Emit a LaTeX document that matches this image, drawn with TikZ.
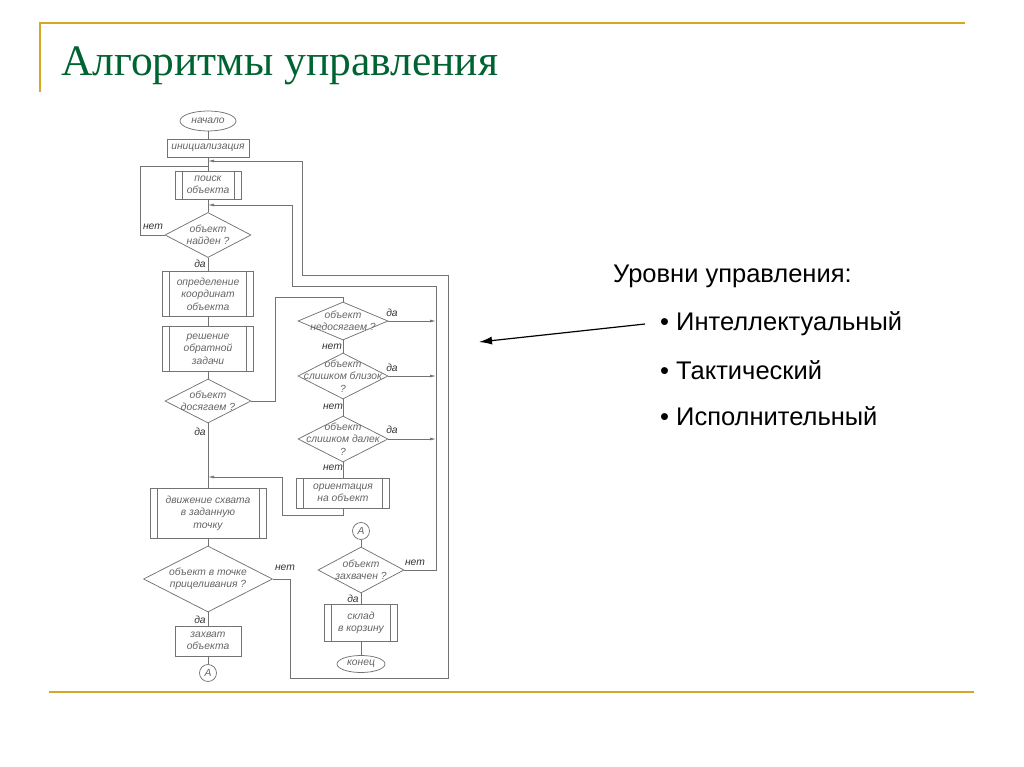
\documentclass[tikz,border=0pt]{standalone}
\usepackage{fontspec}
\setmainfont{Liberation Serif}
\setsansfont{Liberation Sans}
\usetikzlibrary{shapes.geometric,arrows.meta}

\definecolor{gold}{RGB}{214,166,36}
\definecolor{titlegreen}{RGB}{0,100,50}
\definecolor{chartline}{RGB}{115,115,115}
\definecolor{charttext}{RGB}{100,100,100}

\begin{document}
\begin{tikzpicture}[x=1pt,y=-1pt,
  chart/.style={font=\sffamily\itshape\fontsize{10.3}{12.5}\selectfont, text=charttext, align=center, inner sep=0pt},
  line/.style={draw=chartline, line width=0.75pt},
  box/.style 2 args={chart, line, rectangle, minimum width=#1, minimum height=#2},
  sub/.style 2 args={box={#1}{#2}, path picture={
    \draw[chartline, line width=0.75pt]
      ([xshift=7pt]path picture bounding box.north west) -- ([xshift=7pt]path picture bounding box.south west)
      ([xshift=-7pt]path picture bounding box.north east) -- ([xshift=-7pt]path picture bounding box.south east);}},
  dec/.style 2 args={chart, line, diamond, aspect=2, inner xsep=-8pt, inner ysep=-11pt, minimum width=#1, minimum height=#2},
  term/.style 2 args={chart, line, ellipse, minimum width=#1, minimum height=#2},
  con/.style={chart, line, circle, minimum size=17pt},
  lbl/.style={chart, text=black!80},
  flow/.style={line, -{Latex[length=6pt,width=3pt]}},
  slide/.style={font=\sffamily\fontsize{25.5}{25.5}\selectfont, text=black, anchor=west, inner sep=0pt}
]
\useasboundingbox (0,0) rectangle (1024,767);

% frame and title
\draw[gold, line width=2pt] (40,92) -- (40,23) -- (965,23);
\draw[gold, line width=2pt] (49,692) -- (974,692);
\node[anchor=west, inner sep=0pt, font=\fontsize{43.5}{43.5}\selectfont, text=titlegreen] (title) at (61,66) {Алгоритмы управления};

% main column
\node[term={56}{20}] (start) at (208,121) {начало};
\node[box={82}{18}] (init) at (208,148) {инициализация};
\node[sub={66}{28}] (search) at (208,185) {поиск\\объекта};
\node[dec={86}{45}] (found) at (208,235) {объект\\найден ?};
\node[sub={91}{45}] (coord) at (208,294) {определение\\координат\\объекта};
\node[sub={91}{45}] (solve) at (208,349) {решение\\обратной\\задачи};
\node[dec={86}{44}] (reach) at (208,401) {объект\\досягаем ?};
\node[sub={116}{50}] (move) at (208,513) {движение схвата\\в заданную\\точку};
\node[dec={129}{66}] (aim) at (208,579) {объект в точке\\прицеливания ?};
\node[box={66}{30}] (grab) at (208,641) {захват\\объекта};
\node[con] (conA) at (208,673) {A};

% correction column
\node[dec={90}{38}] (unreach) at (343,321) {объект\\недосягаем ?};
\node[dec={90}{46}] (near) at (343,376) {объект\\слишком близок\\?};
\node[dec={90}{46}] (far) at (343,439) {объект\\слишком далек\\?};
\node[sub={93}{30}] (orient) at (343,493) {ориентация\\на объект};
\node[con] (conB) at (361,531) {A};
\node[dec={86}{46}] (caught) at (361,570) {объект\\захвачен ?};
\node[sub={73}{37}] (store) at (361,623) {склад\\в корзину};
\node[term={48}{17}] (stop) at (361,664) {конец};

% joints
\coordinate (j0) at (208,161);
\coordinate (j1) at (208,166);
\coordinate (j2) at (208,205);
\coordinate (j3) at (208,477);
\coordinate (rail) at (436,0);

% straight flow
\draw[line] (start) -- (init) -- (search) -- (found);
\draw[line] (found) -- (coord) -- (solve) -- (reach) -- (move) -- (aim) -- (grab) -- (conA);
\draw[line] (unreach) -- (near) -- (far) -- (orient);
\draw[line] (conB) -- (caught) -- (store) -- (stop);

% loops
\draw[line] (found.west) -- (140,235) |- (j1);
\draw[flow] (aim.east) -- (290,579) -- (290,678) -- (448,678) -- (448,275) -- (302,275) -- (302,161) -- (j0);
\draw[line] (reach.east) -- (275,401) -- (275,297) -| (unreach.north);
\draw[flow] (unreach.east) -- (unreach.east -| rail);
\draw[flow] (near.east) -- (near.east -| rail);
\draw[flow] (far.east) -- (far.east -| rail);
\draw[flow] (caught.east) -- (caught.east -| rail) -- (436,286) -- (292,286) -- (292,205) -- (j2);
\draw[flow] (orient.south) -- (343,515) -- (282,515) -- (282,477) -- (j3);

% branch labels
\node[lbl] at (153,227) {нет};
\node[lbl] at (200,264) {да};
\node[lbl] at (200,432) {да};
\node[lbl] at (285,568) {нет};
\node[lbl] at (200,620) {да};
\node[lbl] at (392,313) {да};
\node[lbl] at (332,347) {нет};
\node[lbl] at (392,368) {да};
\node[lbl] at (333,407) {нет};
\node[lbl] at (392,430) {да};
\node[lbl] at (333,468) {нет};
\node[lbl] at (415,563) {нет};
\node[lbl] at (353,599) {да};

% levels
\node[slide] (levels) at (613,276) {Уровни управления:};
\node[slide] (intel) at (660,324) {\textbullet\ Интеллектуальный};
\node[slide] (tact) at (660,370) {\textbullet\ Тактический};
\node[slide] (exec) at (660,416) {\textbullet\ Исполнительный};
\coordinate (ptr) at (479,342);
\draw[-{Latex[length=13pt,width=8pt]}, line width=1.2pt] ([xshift=-15pt]intel.west) -- (ptr);
\end{tikzpicture}
\end{document}
